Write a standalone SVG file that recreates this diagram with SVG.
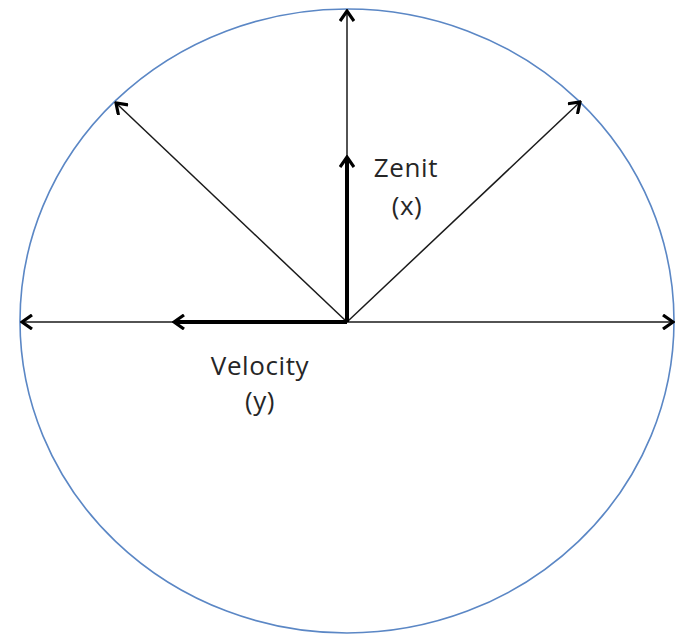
<svg xmlns="http://www.w3.org/2000/svg" width="675" height="635" viewBox="0 0 675 635">
<style>
.thin{stroke:#1a1a1a;stroke-width:1.5;fill:none}
.thick{stroke:#000;stroke-width:4;fill:none}
.lbl{font-family:"Open Sans","Liberation Sans",sans-serif;font-size:26px;letter-spacing:0.6px;fill:#262626;text-anchor:middle}
</style>
<defs>
<marker id="a" viewBox="-12 -8 14 16" markerWidth="14" markerHeight="16" refX="0" refY="0" orient="auto" markerUnits="userSpaceOnUse">
<polyline points="-10,-7 0,0 -10,7" fill="none" stroke="#000" stroke-width="3.2"/>
</marker>
</defs>
<rect width="675" height="635" fill="#fff"/>
<g id="circle"><ellipse cx="347" cy="321" rx="327" ry="312" fill="none" stroke="#5b87c5" stroke-width="1.6"/></g>
<g id="connectors">
<line class="thin" x1="347" y1="322" x2="347" y2="11" marker-end="url(#a)"/>
<line class="thin" x1="347" y1="322" x2="22" y2="322" marker-end="url(#a)"/>
<line class="thin" x1="347" y1="322" x2="673" y2="322" marker-end="url(#a)"/>
<line class="thin" x1="347" y1="322" x2="116" y2="103" marker-end="url(#a)"/>
<line class="thin" x1="347" y1="322" x2="580" y2="102" marker-end="url(#a)"/>
<line class="thick" x1="347" y1="322" x2="347" y2="157" marker-end="url(#a)"/>
<line class="thick" x1="347" y1="322" x2="174" y2="322" marker-end="url(#a)"/>
</g>
<g id="zenit"><text class="lbl" x="406" y="177">Zenit</text><text class="lbl" x="407" y="215">(x)</text></g>
<g id="velocity"><text class="lbl" x="260" y="375">Velocity</text><text class="lbl" x="260" y="410">(y)</text></g>
</svg>
